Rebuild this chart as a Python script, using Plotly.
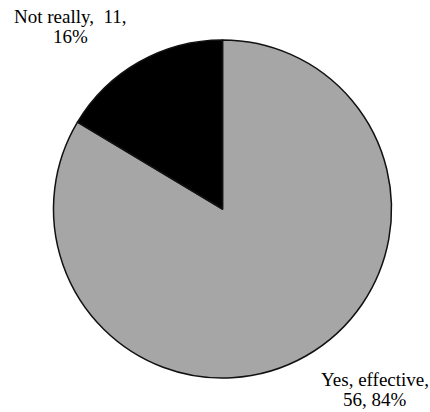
import plotly.graph_objects as go

labels = ["Yes, effective", "Not really"]
values = [56, 11]
percents = ["84%", "16%"]
colors = ["#a6a6a6", "#000000"]

W, H = 430, 412
cx, cy, r = 222.5, 209.0, 169.0

fig = go.Figure(go.Pie(
    labels=labels,
    values=values,
    sort=False,
    direction="clockwise",
    rotation=0,
    marker=dict(colors=colors, line=dict(color="#111111", width=1.5)),
    textinfo="none",
    hoverinfo="label+value+percent",
    showlegend=False,
    domain=dict(x=[(cx - r) / W, (cx + r) / W], y=[1 - (cy + r) / H, 1 - (cy - r) / H]),
))

font = dict(family="Liberation Serif, Times New Roman, serif", size=19, color="#000000")


def label_lines(lines, x, y0, step=20):
    for i, line in enumerate(lines):
        fig.add_annotation(
            x=x / W, y=1 - (y0 + i * step) / H, xref="paper", yref="paper",
            text=line, showarrow=False, font=font,
            xanchor="center", yanchor="middle",
        )


label_lines([f"{labels[1]},  {values[1]},", percents[1]], 70, 17)
label_lines([f"{labels[0]},", f"{values[0]}, {percents[0]}"], 375, 379)

fig.update_layout(
    width=W, height=H,
    margin=dict(l=0, r=0, t=0, b=0),
    paper_bgcolor="white", plot_bgcolor="white",
)
fig.write_html("out.html")
